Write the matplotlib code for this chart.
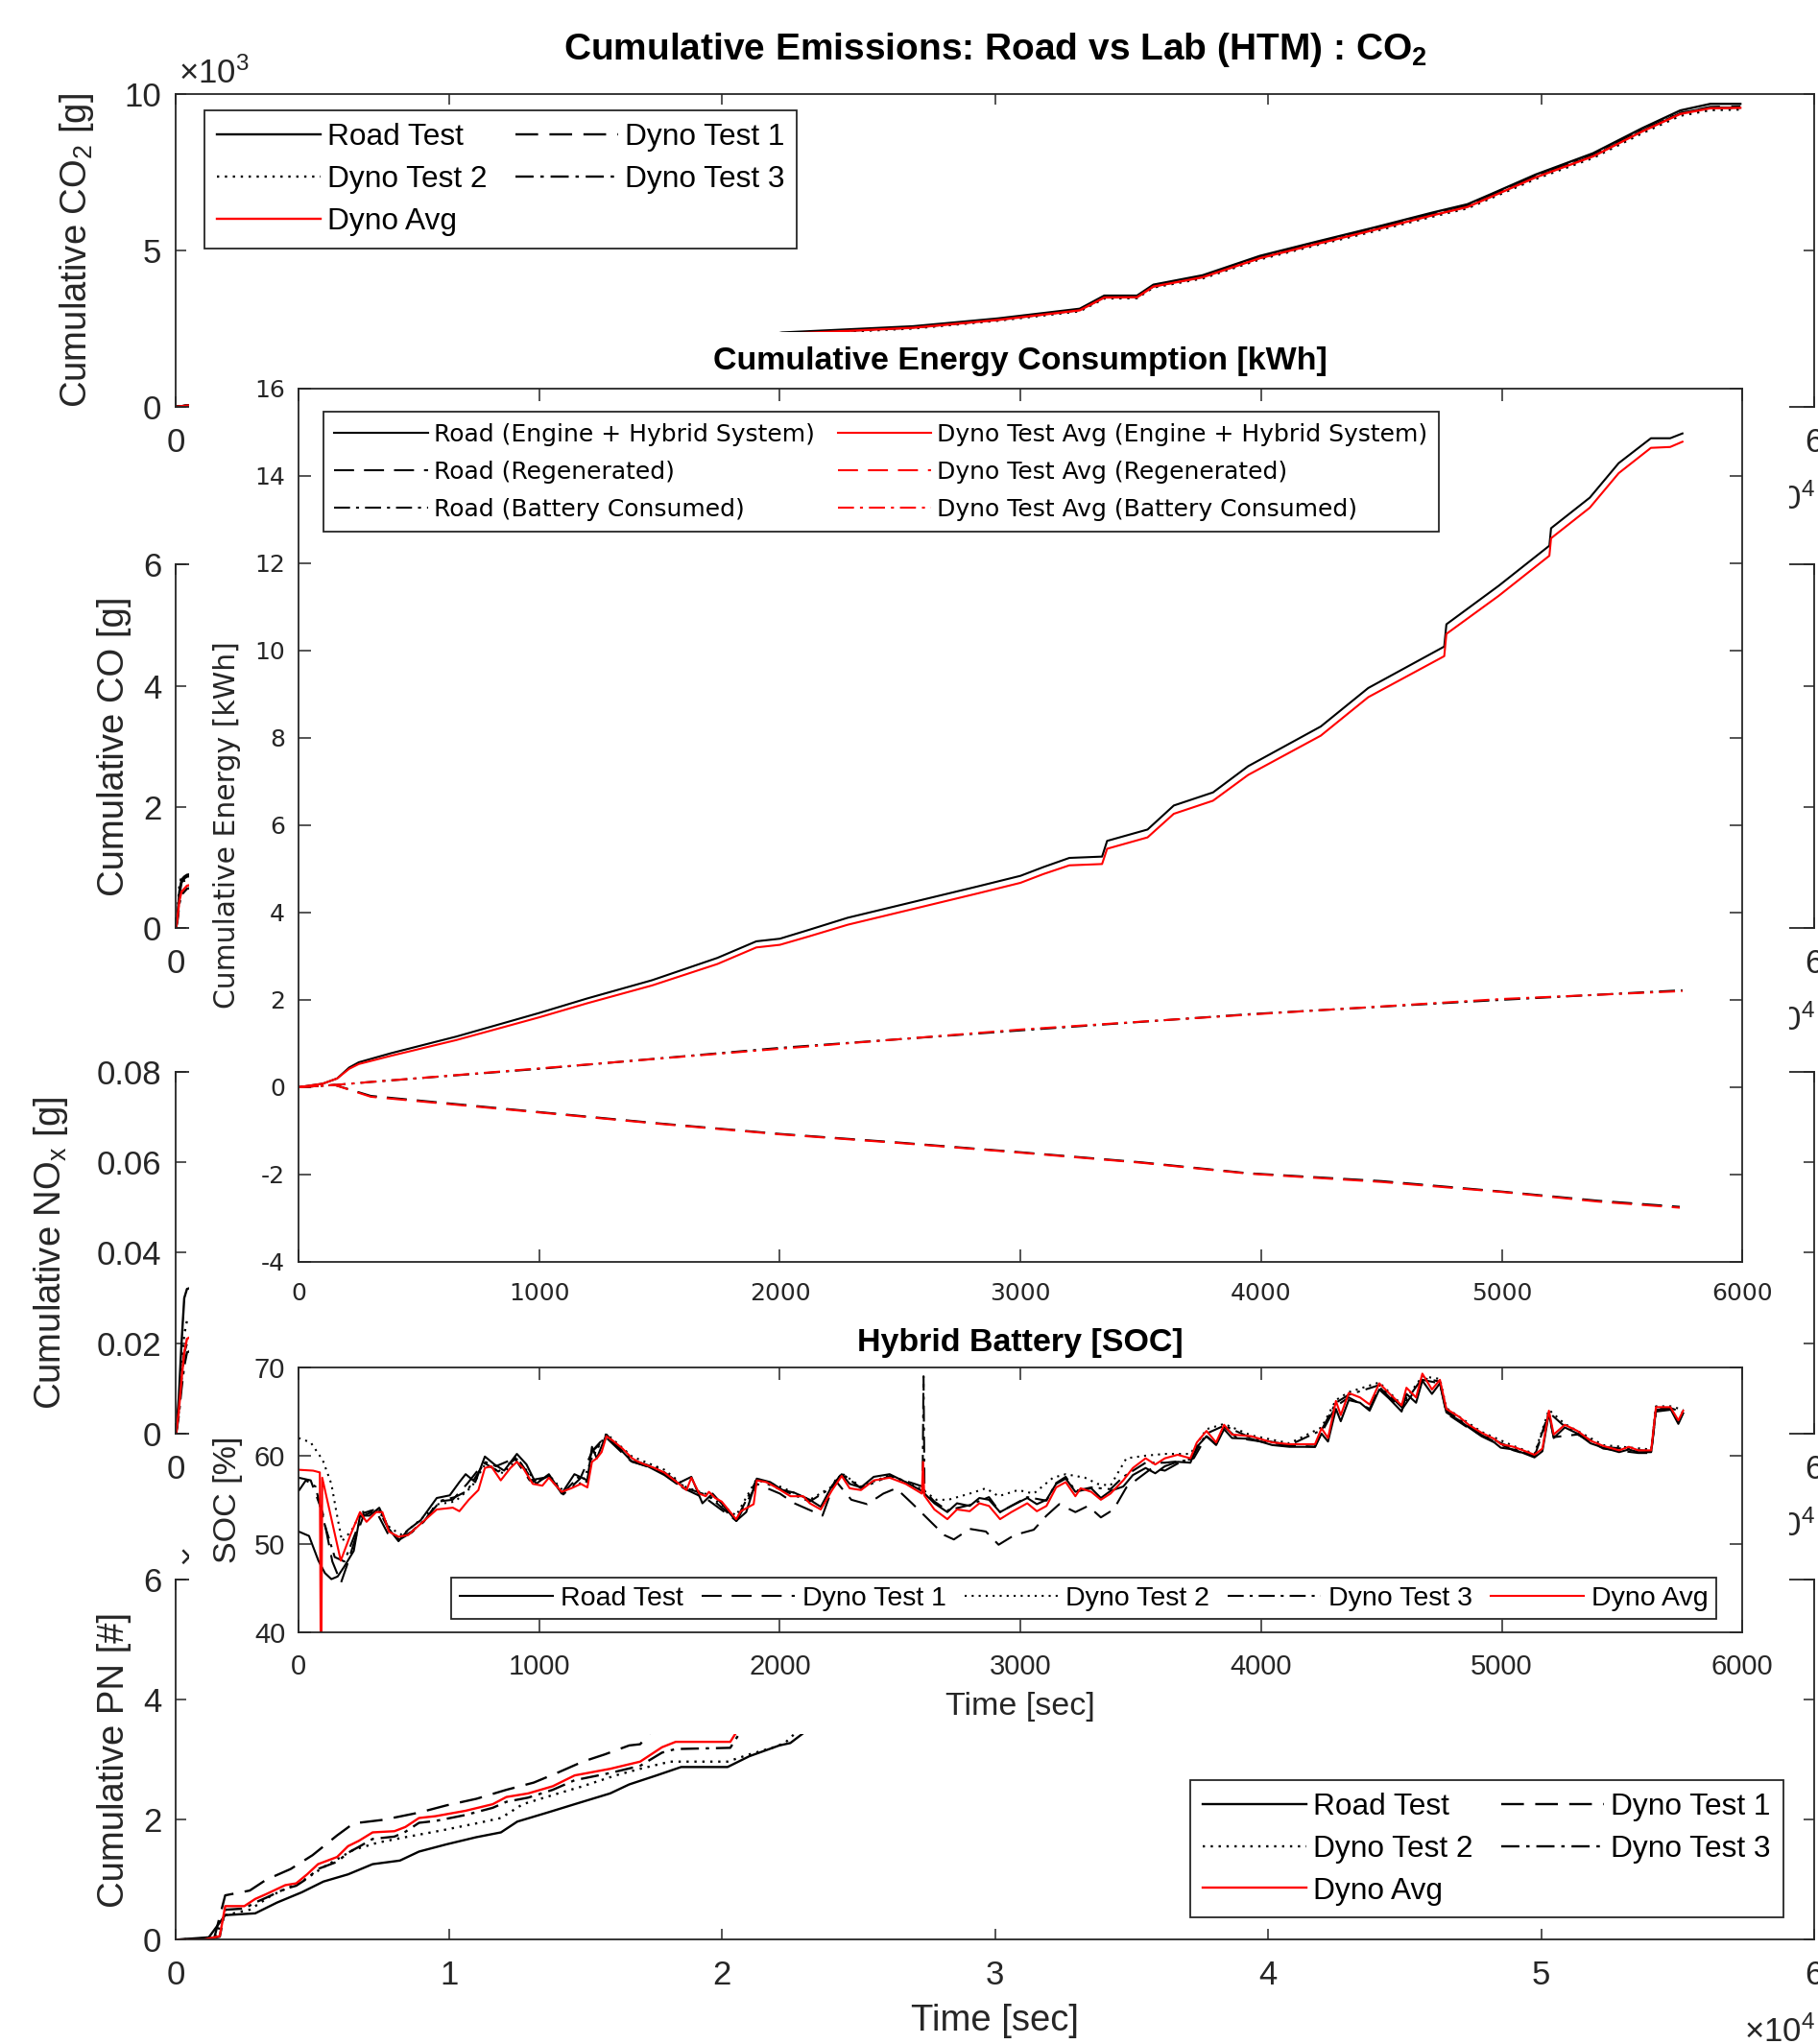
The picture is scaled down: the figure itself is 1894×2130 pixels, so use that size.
import numpy as np
import matplotlib.pyplot as plt
from matplotlib.lines import Line2D

plt.rcParams['font.family'] = ['Liberation Sans', 'DejaVu Sans']
plt.rcParams['mathtext.fontset'] = 'custom'
plt.rcParams['mathtext.rm'] = 'Liberation Sans'
plt.rcParams['mathtext.it'] = 'Liberation Sans:italic'
plt.rcParams['mathtext.bf'] = 'Liberation Sans:bold'
plt.rcParams['axes.unicode_minus'] = False

# ---------------- background figure data (time in sec) ----------------
co2_t = [0, 5000, 10000, 15000, 20000, 22200, 27000, 30100, 33100, 34000, 35200, 35800, 37600,
         39700, 41800, 43900, 46000, 47300, 48100, 49800, 51900, 53700, 55100, 56200, 57300]
co2_road = [0, 450, 950, 1450, 2000, 2370, 2570, 2820, 3130, 3550, 3550, 3900, 4200,
            4820, 5280, 5730, 6200, 6470, 6770, 7420, 8100, 8900, 9470, 9680, 9680]
co2_dyno1 = [0, 440, 930, 1420, 1960, 2330, 2530, 2780, 3090, 3500, 3510, 3850, 4150,
             4760, 5220, 5670, 6130, 6400, 6700, 7350, 8020, 8820, 9380, 9580, 9600]
co2_dyno2 = [0, 430, 920, 1400, 1940, 2300, 2500, 2750, 3050, 3460, 3470, 3810, 4100,
             4710, 5170, 5610, 6070, 6340, 6640, 7280, 7950, 8740, 9300, 9480, 9500]
co2_dyno3 = [0, 445, 935, 1430, 1970, 2340, 2540, 2790, 3100, 3510, 3520, 3860, 4160,
             4770, 5230, 5680, 6140, 6410, 6710, 7360, 8030, 8830, 9390, 9560, 9560]
co2_avg = [0, 438, 928, 1417, 1957, 2323, 2523, 2773, 3080, 3490, 3500, 3840, 4137,
           4747, 5207, 5653, 6113, 6383, 6683, 7330, 8000, 8797, 9357, 9540, 9553]

co_t = [0, 60, 120, 200, 300, 400, 2000, 20000, 57300]
co_road = [0, 0.25, 0.6, 0.8, 0.85, 0.88, 1.0, 1.4, 2.0]
co_dyno1 = [0, 0.2, 0.55, 0.75, 0.82, 0.85, 0.95, 1.3, 1.9]
co_dyno2 = [0, 0.3, 0.7, 0.85, 0.78, 0.8, 0.9, 1.2, 1.7]
co_dyno3 = [0, 0.15, 0.4, 0.55, 0.6, 0.65, 0.8, 1.1, 1.6]
co_avg = [0, 0.2, 0.45, 0.6, 0.65, 0.7, 0.85, 1.2, 1.7]

nox_t = [0, 100, 200, 300, 400, 2000, 20000, 57300]
nox_road = [0, 0.008, 0.02, 0.03, 0.032, 0.035, 0.045, 0.06]
nox_dyno1 = [0, 0.005, 0.012, 0.018, 0.02, 0.025, 0.035, 0.05]
nox_dyno2 = [0, 0.006, 0.015, 0.022, 0.025, 0.03, 0.04, 0.055]
nox_dyno3 = [0, 0.004, 0.01, 0.015, 0.018, 0.022, 0.03, 0.045]
nox_avg = [0, 0.005, 0.012, 0.018, 0.021, 0.026, 0.035, 0.05]

pn_road_t = [0, 1200, 1800, 2900, 3700, 4600, 5400, 6300, 7200, 8200, 8900, 9900, 11000,
             11900, 12500, 13600, 14600, 15900, 16600, 17600, 18500, 20200, 21000, 22100, 22500, 24000]
pn_road = [0, 0.04, 0.41, 0.44, 0.62, 0.79, 0.97, 1.09, 1.26, 1.32, 1.47, 1.59, 1.71,
           1.79, 1.97, 2.12, 2.26, 2.44, 2.59, 2.74, 2.88, 2.88, 3.06, 3.24, 3.28, 3.8]
pn_dyno1_t = [0, 1400, 1800, 2700, 3300, 4200, 5000, 5900, 6500, 7600, 8900, 9900, 11000,
              12100, 13100, 14000, 14900, 15700, 16600, 17000, 18000]
pn_dyno1 = [0, 0.03, 0.74, 0.82, 1.0, 1.18, 1.41, 1.74, 1.94, 2.0, 2.12, 2.24, 2.35,
            2.5, 2.62, 2.79, 2.97, 3.09, 3.24, 3.26, 3.8]
pn_dyno2_t = [0, 1400, 1800, 2700, 3500, 4600, 5400, 6500, 7400, 8400, 9700, 11000, 11900,
              12700, 14000, 14900, 16100, 17000, 18100, 20200, 21000, 21900, 22300, 23500]
pn_dyno2 = [0, 0.03, 0.41, 0.5, 0.74, 0.97, 1.21, 1.5, 1.62, 1.71, 1.82, 1.94, 2.03,
            2.26, 2.44, 2.56, 2.74, 2.85, 2.97, 2.97, 3.09, 3.21, 3.28, 3.8]
pn_avg_t = [0, 1000, 1600, 1800, 2500, 2900, 3300, 4000, 4400, 4800, 5200, 5900, 6300, 6700, 7200,
            8000, 8400, 8900, 9500, 10600, 11600, 12100, 12900, 13800, 14600, 15900, 17000, 17800, 18300,
            20300, 21000]
pn_dyno3 = [0, 0, 0.05, 0.5, 0.52, 0.62, 0.7, 0.85, 0.9, 1.02, 1.18, 1.3, 1.45, 1.55, 1.68,
            1.72, 1.8, 1.95, 1.98, 2.08, 2.2, 2.3, 2.37, 2.5, 2.66, 2.78, 2.9, 3.12, 3.18, 3.2, 3.7]
pn_avg = [0, 0, 0.06, 0.56, 0.56, 0.68, 0.76, 0.91, 0.94, 1.09, 1.26, 1.38, 1.56, 1.65, 1.79,
          1.81, 1.88, 2.03, 2.06, 2.15, 2.26, 2.38, 2.44, 2.56, 2.74, 2.85, 2.97, 3.21, 3.3, 3.3, 3.8]

# ---------------- energy consumption data ----------------
en_t = [0, 100, 160, 210, 250, 385, 656, 1000, 1198, 1469, 1740, 1902, 2000, 2119, 2282, 2553,
        2824, 3000, 3095, 3203, 3339, 3360, 3528, 3637, 3800, 3946, 4248, 4445, 4761, 4770,
        4987, 5198, 5205, 5366, 5486, 5620, 5700, 5751]
en_road = [0, 0.08, 0.2, 0.45, 0.57, 0.78, 1.16, 1.7, 2.03, 2.45, 2.96, 3.34, 3.4, 3.6, 3.88, 4.24,
           4.6, 4.84, 5.04, 5.25, 5.28, 5.64, 5.9, 6.45, 6.75, 7.35, 8.26, 9.14, 10.09, 10.6,
           11.48, 12.4, 12.8, 13.5, 14.29, 14.86, 14.86, 14.97]
en_dyno = [0, 0.08, 0.2, 0.42, 0.53, 0.72, 1.08, 1.6, 1.92, 2.33, 2.82, 3.2, 3.26, 3.45, 3.72, 4.08,
           4.44, 4.68, 4.88, 5.08, 5.11, 5.46, 5.72, 6.26, 6.56, 7.15, 8.05, 8.93, 9.87, 10.38,
           11.25, 12.17, 12.57, 13.27, 14.06, 14.64, 14.66, 14.78]
batt_t = [0, 150, 300, 1000, 2000, 3000, 3946, 5000, 5751]
batt_road = [0, 0.05, 0.12, 0.42, 0.9, 1.3, 1.67, 2.0, 2.22]
batt_dyno = [0, 0.05, 0.12, 0.43, 0.88, 1.32, 1.66, 2.02, 2.2]
regen_t = [0, 150, 300, 1000, 1500, 2000, 2500, 3000, 3500, 3946, 4500, 5000, 5400, 5740]
regen_road = [0, 0.05, -0.2, -0.57, -0.83, -1.07, -1.27, -1.49, -1.72, -1.97, -2.15, -2.39, -2.6, -2.74]
regen_dyno = [0, 0.05, -0.22, -0.58, -0.84, -1.08, -1.28, -1.5, -1.73, -1.98, -2.17, -2.4, -2.62, -2.76]

# ---------------- hybrid battery SOC data ----------------
soc_avg_t = [0, 60, 88, 93, 98, 135, 175, 215, 255, 282, 322, 348, 375, 415, 455, 508, 574, 641, 668,
             707, 747, 774, 800, 840, 880, 907, 933, 973, 1013, 1040, 1093, 1133, 1173, 1200, 1219,
             1239, 1259, 1279, 1306, 1346, 1386, 1412, 1439, 1479, 1519, 1572, 1612, 1632, 1665,
             1692, 1705, 1731, 1758, 1785, 1818, 1838, 1891, 1904, 1944, 1984, 2044, 2097, 2124,
             2170, 2217, 2257, 2290, 2337, 2390, 2456, 2523, 2590, 2595, 2600, 2642, 2696, 2736,
             2789, 2829, 2869, 2915, 2962, 3028, 3068, 3108, 3148, 3188, 3228, 3250, 3294, 3334,
             3374, 3427, 3467, 3520, 3560, 3600, 3653, 3706, 3733, 3773, 3813, 3846, 3879, 3959,
             4046, 4118, 4224, 4251, 4278, 4311, 4331, 4364, 4411, 4451, 4491, 4531, 4584, 4604,
             4644, 4670, 4710, 4743, 4770, 4823, 4863, 4916, 4969, 4996, 5049, 5089, 5136, 5169,
             5196, 5216, 5262, 5315, 5369, 5422, 5488, 5528, 5568, 5621, 5641, 5701, 5734, 5754]
soc_avg = [58.4, 58.3, 58.1, 30.0, 57.5, 53.0, 48.1, 51.0, 53.6, 52.5, 53.6, 53.6, 51.4, 50.8, 51.0,
           52.3, 53.9, 54.1, 53.7, 55.0, 56.1, 58.6, 58.8, 57.2, 58.6, 59.3, 58.6, 56.8, 56.6, 57.5,
           55.9, 56.3, 56.8, 56.4, 59.3, 59.7, 60.4, 62.2, 61.7, 60.8, 59.7, 59.3, 59.0, 58.6, 58.1,
           57.0, 56.1, 57.5, 55.7, 55.4, 55.9, 55.2, 54.8, 53.9, 52.8, 53.7, 54.5, 57.2, 57.0, 56.4,
           55.4, 55.4, 54.6, 53.9, 56.1, 57.7, 56.3, 56.1, 57.2, 57.5, 56.8, 55.7, 59.3, 55.5, 53.9,
           52.8, 53.9, 53.7, 54.6, 54.3, 52.8, 53.6, 54.6, 53.7, 54.3, 56.4, 57.0, 55.4, 56.3, 55.9,
           55.0, 55.7, 57.2, 58.6, 59.7, 59.0, 59.7, 60.1, 59.7, 61.5, 62.8, 61.5, 63.5, 62.4, 62.2,
           61.5, 61.3, 61.3, 63.1, 62.0, 66.2, 64.6, 67.1, 66.6, 65.8, 68.2, 67.1, 65.7, 67.7, 66.6,
           69.3, 67.5, 68.6, 65.3, 64.4, 63.5, 62.6, 61.9, 61.3, 61.0, 60.6, 60.1, 60.8, 65.1, 62.4,
           63.5, 62.8, 61.7, 61.1, 60.6, 61.0, 60.6, 60.6, 65.5, 65.5, 64.0, 65.1]
soc_road_t = [0, 43, 82, 109, 136, 162, 189, 229, 255, 295, 335, 375, 415, 455, 508, 574, 628, 668,
              694, 734, 774, 814, 854, 907, 947, 987, 1040, 1093, 1146, 1200, 1219, 1239, 1279, 1320,
              1386, 1450, 1520, 1572, 1632, 1678, 1720, 1760, 1818, 1860, 1904, 1960, 2011, 2060,
              2124, 2170, 2217, 2257, 2290, 2337, 2390, 2456, 2523, 2590, 2642, 2696, 2736, 2789,
              2829, 2869, 2915, 2962, 3028, 3068, 3108, 3148, 3188, 3228, 3294, 3334, 3374, 3427,
              3467, 3520, 3560, 3600, 3653, 3706, 3733, 3773, 3813, 3846, 3879, 3959, 4046, 4118,
              4224, 4251, 4278, 4311, 4331, 4364, 4411, 4451, 4491, 4531, 4584, 4604, 4644, 4670,
              4710, 4743, 4770, 4823, 4863, 4916, 4969, 4996, 5049, 5089, 5136, 5169, 5196, 5216,
              5262, 5315, 5369, 5422, 5488, 5528, 5568, 5621, 5641, 5701, 5734, 5754]
soc_road = [51.4, 50.9, 48.1, 46.7, 46.0, 46.3, 47.4, 49.2, 53.2, 53.2, 54.1, 51.7, 50.3, 51.6, 52.7,
            55.2, 55.5, 57.0, 57.9, 57.0, 59.9, 59.0, 58.3, 60.2, 59.0, 56.8, 57.9, 55.7, 57.9, 57.2,
            61.0, 59.7, 62.4, 61.2, 59.3, 58.8, 57.8, 56.8, 57.6, 54.6, 55.7, 54.5, 52.6, 53.6, 57.4,
            57.0, 56.1, 55.8, 55.0, 54.2, 56.6, 57.9, 56.8, 56.4, 57.6, 57.9, 57.0, 56.0, 54.6, 53.6,
            54.6, 54.3, 55.2, 55.0, 53.6, 54.3, 55.2, 54.5, 55.0, 56.8, 57.4, 55.9, 56.3, 55.2, 56.0,
            56.5, 57.8, 58.6, 58.0, 58.8, 59.3, 59.2, 61.0, 62.2, 61.2, 63.0, 62.0, 61.9, 61.2, 61.0,
            61.0, 62.5, 61.6, 65.3, 63.9, 66.3, 66.0, 65.1, 67.5, 66.5, 65.0, 67.0, 66.0, 68.5, 67.0,
            68.2, 64.9, 64.0, 63.2, 62.2, 61.5, 60.9, 60.7, 60.3, 59.8, 60.5, 64.8, 62.0, 63.2, 62.5,
            61.4, 60.9, 60.4, 60.7, 60.4, 60.4, 65.2, 65.3, 63.6, 64.8]
soc_dyno1_t = [0, 50, 100, 140, 176, 200, 240, 270, 320, 370, 420, 470, 520, 580, 640, 700, 770, 830,
               900, 960, 1040, 1100, 1170, 1220, 1280, 1380, 1500, 1600, 1700, 1820, 1904, 2000,
               2060, 2177, 2230, 2297, 2363, 2430, 2483, 2549, 2616, 2683, 2723, 2789, 2856, 2909,
               2975, 3055, 3108, 3161, 3228, 3281, 3334, 3387, 3440, 3493, 3547, 3600, 3666, 3720,
               3773, 3813, 3846, 3900, 4000, 4100, 4224, 4251, 4311, 4364, 4451, 4491, 4584, 4670,
               4743, 4770, 4863, 4969, 5049, 5136, 5196, 5216, 5315, 5422, 5568, 5621, 5641, 5701,
               5734, 5754]
soc_dyno1 = [57.5, 57.2, 53.5, 48.0, 45.6, 47.5, 51.0, 53.2, 53.8, 51.2, 50.5, 51.3, 52.5, 54.8, 55.0,
             56.8, 59.2, 58.2, 59.6, 57.2, 57.6, 55.6, 57.4, 60.5, 62.0, 59.4, 58.3, 56.3, 55.0, 52.6,
             56.8, 55.7, 54.6, 53.2, 57.2, 55.0, 54.5, 55.7, 56.3, 54.6, 52.8, 51.0, 50.5, 51.7, 51.4,
             49.9, 51.0, 51.6, 53.2, 54.5, 53.6, 54.3, 53.0, 53.9, 56.4, 57.5, 58.6, 58.3, 59.3, 59.7,
             62.2, 61.3, 63.3, 62.0, 61.6, 61.2, 61.0, 62.6, 65.6, 66.6, 65.3, 67.8, 65.2, 68.6, 68.2,
             64.8, 63.1, 61.6, 60.6, 59.9, 64.7, 62.1, 62.4, 60.8, 60.3, 60.3, 65.0, 65.2, 63.8, 64.9]
soc_dyno2_t = [0, 50, 100, 136, 155, 180, 220, 260, 330, 380, 430, 500, 580, 650, 720, 774, 850, 907,
               990, 1040, 1100, 1180, 1220, 1279, 1386, 1520, 1612, 1700, 1818, 1904, 2000, 2124,
               2217, 2257, 2337, 2456, 2590, 2650, 2700, 2789, 2856, 2909, 2990, 3055, 3135, 3188,
               3268, 3320, 3374, 3440, 3520, 3600, 3706, 3773, 3846, 3959, 4118, 4251, 4311, 4364,
               4491, 4584, 4670, 4743, 4770, 4916, 5049, 5136, 5196, 5262, 5422, 5621, 5641, 5701, 5754]
soc_dyno2 = [62.0, 61.5, 59.5, 56.8, 53.9, 50.3, 51.5, 53.6, 53.8, 51.8, 51.0, 52.6, 54.5, 54.8, 56.5,
             59.0, 58.0, 59.6, 57.0, 57.8, 56.0, 57.0, 59.8, 62.5, 59.9, 58.4, 56.4, 55.6, 53.2, 57.4,
             56.5, 55.0, 56.5, 58.0, 56.5, 57.8, 56.2, 55.0, 55.0, 55.7, 56.3, 55.4, 56.1, 55.7, 57.5,
             57.9, 57.5, 56.8, 56.6, 59.7, 60.0, 60.2, 60.2, 63.0, 63.6, 62.3, 61.4, 63.2, 66.3, 67.2,
             68.3, 65.8, 69.0, 68.7, 65.4, 62.7, 61.1, 60.2, 65.2, 63.6, 61.2, 60.7, 65.6, 65.6, 65.2]
soc_dyno3_t = [0, 30, 70, 110, 150, 190, 240, 270, 330, 375, 420, 470, 530, 590, 650, 700, 774, 820,
               907, 980, 1040, 1100, 1160, 1200, 1219, 1279, 1386, 1500, 1612, 1700, 1818, 1904, 2000,
               2124, 2217, 2257, 2337, 2456, 2560, 2593, 2597, 2601, 2642, 2696, 2789, 2869, 2915,
               3028, 3108, 3148, 3188, 3228, 3294, 3374, 3427, 3520, 3600, 3706, 3773, 3846, 3959,
               4118, 4251, 4311, 4364, 4491, 4584, 4670, 4743, 4770, 4916, 5049, 5136, 5196, 5262,
               5422, 5621, 5641, 5701, 5754]
soc_dyno3 = [56.0, 57.2, 56.5, 52.0, 48.5, 48.0, 51.5, 53.5, 54.0, 51.6, 50.6, 51.4, 52.9, 54.9, 55.3,
             56.0, 59.3, 58.8, 59.8, 56.9, 57.7, 55.8, 57.5, 57.0, 60.5, 62.3, 59.5, 58.5, 56.3, 55.5,
             52.7, 57.3, 56.2, 54.8, 56.4, 58.0, 56.3, 57.7, 56.8, 56.5, 69.0, 56.0, 54.8, 53.8, 54.4,
             55.3, 53.6, 55.3, 54.9, 56.9, 57.6, 56.0, 56.4, 56.2, 57.6, 59.2, 59.2, 59.5, 62.5, 63.4,
             62.0, 61.2, 62.9, 66.0, 66.9, 68.0, 65.5, 68.8, 68.4, 65.1, 62.4, 60.8, 60.0, 64.9, 63.3,
             61.0, 60.5, 65.3, 65.4, 64.9]

series_labels = ['Road Test', 'Dyno Test 1', 'Dyno Test 2', 'Dyno Test 3', 'Dyno Avg']

# ---------------- styles ----------------
AX = '#262626'
DASH = (0, (10, 5))
DOT = (0, (1, 2.5))
DASHDOT = (0, (8, 3, 1.5, 3))
STYLES = [dict(color='black', ls='-'), dict(color='black', ls=DASH), dict(color='black', ls=DOT),
          dict(color='black', ls=DASHDOT), dict(color='red', ls='-')]

W, H = 1394.0, 1568.0  # layout grid of the reference picture


def box(left, top, right, bottom):
    return [left / W, 1 - bottom / H, (right - left) / W, (bottom - top) / H]


fig = plt.figure(figsize=(18.94, 21.30), dpi=100)


def style_axes(ax, fs, tick_len, xpad, ypad, family=None):
    ax.tick_params(direction='in', length=tick_len, width=1.1, top=True, right=True,
                   labelsize=fs, colors=AX, labelcolor=AX)
    ax.tick_params(axis='x', pad=xpad)
    ax.tick_params(axis='y', pad=ypad)
    if family:
        ax.tick_params(labelfontfamily=family)
    for s in ax.spines.values():
        s.set_color(AX)
        s.set_linewidth(1.3)


def bg_axes(pos, data, ylim, yticks, yticklabels, ylabel, label_x):
    ax = fig.add_axes(pos)
    for (t, v), st in zip(data, STYLES):
        ax.plot(t, v, lw=1.7, **st)
    ax.set_xlim(0, 60000)
    ax.set_xticks(np.arange(0, 60001, 10000))
    ax.set_xticklabels([str(i) for i in range(7)])
    ax.set_ylim(*ylim)
    ax.set_yticks(yticks)
    ax.set_yticklabels(yticklabels)
    style_axes(ax, 25, 8, 15, 11)
    ax.set_ylabel(ylabel, fontsize=27.5, color=AX)
    ax.yaxis.set_label_coords(label_x, 0.5)
    ax.annotate('\u00d710$^{4}$', xy=(1.0, 0), xycoords='axes fraction', xytext=(1, -77),
                textcoords='offset points', ha='right', va='baseline', fontsize=25, color=AX)
    return ax


def legend5(ax, handles, **kw):
    order = [0, 2, 4, 1, 3]
    leg = ax.legend([handles[i] for i in order], [series_labels[i] for i in order], ncol=2,
                    fontsize=22.8, handlelength=3.4, handletextpad=0.22, columnspacing=0.93,
                    labelspacing=0.44, borderpad=0.4, fancybox=False, framealpha=1,
                    edgecolor=AX, borderaxespad=0, **kw)
    leg.get_frame().set_linewidth(1.3)
    for txt in leg.get_texts():
        txt.set_color('black')
    return leg


# CO2
ax_co2 = bg_axes(box(135, 72, 1391, 312),
                 [(co2_t, co2_road), (co2_t, co2_dyno1), (co2_t, co2_dyno2), (co2_t, co2_dyno3), (co2_t, co2_avg)],
                 (0, 10000), [0, 5000, 10000], ['0', '5', '10'], 'Cumulative CO$_2$ [g]', -0.0486)
ax_co2.set_title('Cumulative Emissions: Road vs Lab (HTM) : CO$_\\mathbf{2}$', fontsize=28,
                 fontweight='bold', pad=26)
ax_co2.annotate('\u00d710$^{3}$', xy=(0, 1), xycoords='axes fraction', xytext=(2, 8),
                textcoords='offset points', ha='left', va='baseline', fontsize=25, color=AX)
legend5(ax_co2, ax_co2.get_lines(), loc='upper left', bbox_to_anchor=(0.0175, 0.946))

# CO
bg_axes(box(135, 433, 1391, 712),
        [(co_t, co_road), (co_t, co_dyno1), (co_t, co_dyno2), (co_t, co_dyno3), (co_t, co_avg)],
        (0, 6), [0, 2, 4, 6], ['0', '2', '4', '6'], 'Cumulative CO [g]', -0.0271)

# NOx
bg_axes(box(135, 822, 1391, 1100),
        [(nox_t, nox_road), (nox_t, nox_dyno1), (nox_t, nox_dyno2), (nox_t, nox_dyno3), (nox_t, nox_avg)],
        (0, 0.08), [0, 0.02, 0.04, 0.06, 0.08], ['0', '0.02', '0.04', '0.06', '0.08'],
        'Cumulative NO$_\\mathrm{x}$ [g]', -0.0645)

# PN
ax_pn = bg_axes(box(135, 1212, 1391, 1488),
                [(pn_road_t, pn_road), (pn_dyno1_t, pn_dyno1), (pn_dyno2_t, pn_dyno2),
                 (pn_avg_t, pn_dyno3), (pn_avg_t, pn_avg)],
                (0, 6), [0, 2, 4, 6], ['0', '2', '4', '6'], 'Cumulative PN [#]', -0.0271)
ax_pn.set_xlabel('Time [sec]', fontsize=27.5, color=AX)
ax_pn.xaxis.set_label_coords(0.5, -0.178)
ax_pn.annotate('\u00d710$^{11}$', xy=(0, 1), xycoords='axes fraction', xytext=(2, 8),
               textcoords='offset points', ha='left', va='baseline', fontsize=25, color=AX)
legend5(ax_pn, ax_pn.get_lines(), loc='lower right', bbox_to_anchor=(0.981, 0.0616))

# white cover (pasted panel background)
cover = fig.add_axes(box(145, 255, 1372, 1330))
cover.set_facecolor('white')
cover.set_xticks([])
cover.set_yticks([])
for s in cover.spines.values():
    s.set_visible(False)

# ---------------- energy panel ----------------
ax_e = fig.add_axes(box(229, 298, 1336, 968))
lw = 1.5
h_re, = ax_e.plot(en_t, en_road, color='black', lw=lw)
h_rr, = ax_e.plot(regen_t, regen_road, color='black', lw=lw, ls=DASH)
h_rb, = ax_e.plot(batt_t, batt_road, color='black', lw=lw, ls=DASHDOT)
h_de, = ax_e.plot(en_t, en_dyno, color='red', lw=lw)
h_dr, = ax_e.plot(regen_t, regen_dyno, color='red', lw=lw, ls=DASH)
h_db, = ax_e.plot(batt_t, batt_dyno, color='red', lw=lw, ls=DASHDOT)
ax_e.set_xlim(0, 6000)
ax_e.set_ylim(-4, 16)
ax_e.set_xticks(np.arange(0, 6001, 1000))
ax_e.set_yticks(np.arange(-4, 17, 2))
style_axes(ax_e, 18, 9.5, 15, 10, family='DejaVu Sans')
ax_e.set_title('Cumulative Energy Consumption [kWh]', fontsize=24.5, fontweight='bold', pad=14)
ax_e.set_ylabel('Cumulative Energy [kWh]', fontsize=21.5, family='DejaVu Sans', color=AX)
ax_e.yaxis.set_label_coords(-0.0397, 0.5)
leg = ax_e.legend([h_re, h_rr, h_rb, h_de, h_dr, h_db],
                  ['Road (Engine + Hybrid System)', 'Road (Regenerated)', 'Road (Battery Consumed)',
                   'Dyno Test Avg (Engine + Hybrid System)', 'Dyno Test Avg (Regenerated)',
                   'Dyno Test Avg (Battery Consumed)'],
                  ncol=2, loc='upper left', bbox_to_anchor=(0.0172, 0.973), borderaxespad=0,
                  prop={'family': 'DejaVu Sans', 'size': 18}, handlelength=3.9, handletextpad=0.25,
                  columnspacing=0.95, labelspacing=0.6, borderpad=0.45, fancybox=False,
                  framealpha=1, edgecolor=AX)
leg.get_frame().set_linewidth(1.3)

# ---------------- SOC panel ----------------
ax_s = fig.add_axes(box(229, 1049, 1336, 1252))
soc_data = [(soc_road_t, soc_road), (soc_dyno1_t, soc_dyno1), (soc_dyno2_t, soc_dyno2),
            (soc_dyno3_t, soc_dyno3), (soc_avg_t, soc_avg)]
hs = []
for (t, v), st in zip(soc_data, STYLES):
    h, = ax_s.plot(t, v, lw=1.5, **st)
    hs.append(h)
ax_s.set_xlim(0, 6000)
ax_s.set_ylim(40, 70)
ax_s.set_xticks(np.arange(0, 6001, 1000))
ax_s.set_yticks([40, 50, 60, 70])
style_axes(ax_s, 21, 9.5, 16, 10)
ax_s.set_title('Hybrid Battery [SOC]', fontsize=24.5, fontweight='bold', pad=12)
ax_s.set_ylabel('SOC [%]', fontsize=24.5, color=AX)
ax_s.yaxis.set_label_coords(-0.0384, 0.5)
ax_s.set_xlabel('Time [sec]', fontsize=24.5, color=AX)
ax_s.xaxis.set_label_coords(0.5, -0.227)
leg = ax_s.legend(hs, series_labels, ncol=5, loc='lower right', bbox_to_anchor=(0.982, 0.049),
                  borderaxespad=0, fontsize=20.5, handlelength=3.4, handletextpad=0.28,
                  columnspacing=0.68, borderpad=0.3, fancybox=False, framealpha=1, edgecolor=AX)
leg.get_frame().set_linewidth(1.3)

fig.savefig('out.png', dpi=100, facecolor='white')
